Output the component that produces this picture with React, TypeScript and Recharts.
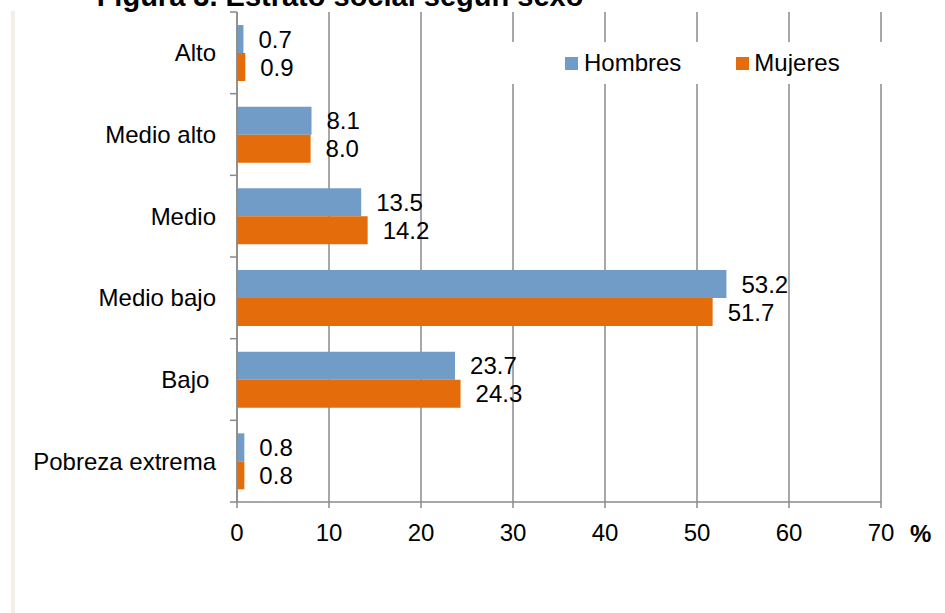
import { Bar, BarChart, CartesianGrid, LabelList, Legend, XAxis, YAxis } from "recharts";

const categories = ["Alto", "Medio alto", "Medio", "Medio bajo", "Bajo ", "Pobreza extrema"];
const hombres = [0.7, 8.1, 13.5, 53.2, 23.7, 0.8];
const mujeres = [0.9, 8.0, 14.2, 51.7, 24.3, 0.8];
const xTicks = [0, 10, 20, 30, 40, 50, 60, 70];

const data = categories.map((estrato, i) => ({ estrato, hombres: hombres[i], mujeres: mujeres[i] }));

const AXIS = "#8a8a8a";
const FONT = "'Liberation Sans', Arial, sans-serif";
const FS = 24;

// category label plus the short marks between categories (Excel style)
const CategoryTick = (props: any) => {
    const { x, y, payload, index, visibleTicksCount, height } = props;
    const band = Number(height) / Number(visibleTicksCount);
    const axisX = x + 21;
    const marks: number[] = [];
    if (Number.isFinite(band)) {
        marks.push(y - band / 2);
        if (index === visibleTicksCount - 1) marks.push(y + band / 2);
    }
    return (
        <g>
            {marks.map((my, i) => (
                <line key={i} x1={axisX - 7} x2={axisX} y1={my} y2={my} stroke={AXIS} strokeWidth={1.5} />
            ))}
            <text x={x} y={y} textAnchor="end" dominantBaseline="central" fontSize={FS} fill="#000" style={{ whiteSpace: "pre" }}>
                {payload.value}
            </text>
        </g>
    );
};

const LegendBox = (props: any) => {
    const items = props.payload || [];
    return (
        <div style={{ display: "flex", alignItems: "center", height: 42, paddingLeft: 65, fontSize: FS, color: "#000" }}>
            {items.map((item: any, i: number) => (
                <div key={item.value} style={{ display: "flex", alignItems: "center", marginRight: i === 0 ? 55 : 0 }}>
                    <span style={{ width: 13, height: 13, background: item.color, marginRight: i === 0 ? 6 : 5 }} />
                    <span>{item.value}</span>
                </div>
            ))}
        </div>
    );
};

const App = () => {
    return (
        <div style={{ position: "absolute", left: 0, top: 0, width: 945, height: 613, background: "#fff", overflow: "hidden", fontFamily: FONT }}>
            {/* left border strip */}
            <div style={{ position: "absolute", left: 11, top: 11, width: 4, height: 602, background: "#f2f0e6" }} />

            {/* title, cut off at the top */}
            <div style={{ position: "absolute", left: 0, width: 680, top: -18, lineHeight: "29px", fontSize: 29, fontWeight: "bold", textAlign: "center", color: "#000" }}>
                Figura 3. Estrato social según sexo
            </div>

            <BarChart
                width={945}
                height={613}
                data={data}
                layout="vertical"
                barSize={28}
                barGap={0}
                margin={{ top: 12, right: 64, bottom: 81, left: 0 }}
            >
                <CartesianGrid horizontal={false} stroke={AXIS} strokeWidth={1.5} />
                <XAxis
                    type="number"
                    domain={[0, 70]}
                    ticks={xTicks}
                    allowDataOverflow
                    height={30}
                    tickSize={6}
                    tickMargin={16}
                    axisLine={{ stroke: AXIS, strokeWidth: 1.5 }}
                    tickLine={{ stroke: AXIS, strokeWidth: 1.5 }}
                    tick={{ fontSize: FS, fill: "#000" }}
                />
                <YAxis
                    type="category"
                    dataKey="estrato"
                    width={237}
                    axisLine={{ stroke: AXIS, strokeWidth: 1.5 }}
                    tickLine={false}
                    tickMargin={15}
                    tick={<CategoryTick />}
                />
                <Legend
                    layout="vertical"
                    align="center"
                    verticalAlign="middle"
                    content={<LegendBox />}
                    wrapperStyle={{ left: 500, top: 42, width: 400, height: 42, background: "#fff" }}
                />
                <Bar dataKey="hombres" name="Hombres" fill="#709cc7" isAnimationActive={false}>
                    <LabelList dataKey="hombres" position="right" offset={15} fontSize={FS} fill="#000" formatter={(v: any) => Number(v).toFixed(1)} />
                </Bar>
                <Bar dataKey="mujeres" name="Mujeres" fill="#e46c0a" isAnimationActive={false}>
                    <LabelList dataKey="mujeres" position="right" offset={15} fontSize={FS} fill="#000" formatter={(v: any) => Number(v).toFixed(1)} />
                </Bar>
            </BarChart>

            {/* axis unit */}
            <div style={{ position: "absolute", left: 910, top: 521, fontSize: FS, fontWeight: "bold", color: "#000", lineHeight: "26px" }}>%</div>
        </div>
    );
};

export default App;
